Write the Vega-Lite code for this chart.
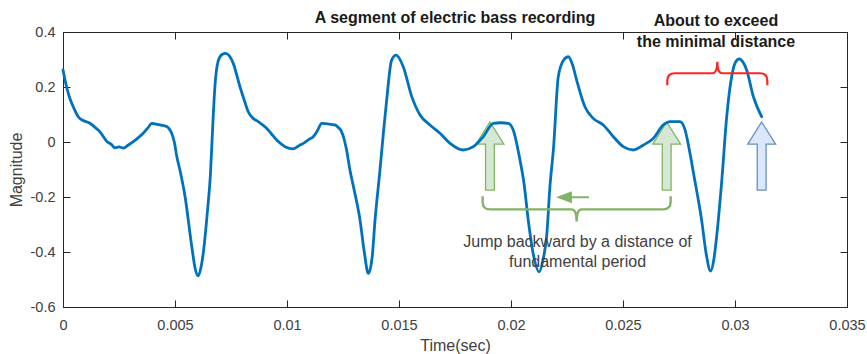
{
  "$schema": "https://vega.github.io/schema/vega-lite/v6.json",
  "width": 784,
  "height": 275,
  "autosize": {"type": "none"},
  "padding": {"left": 63, "top": 32, "right": 20, "bottom": 47},
  "background": "white",
  "title": {
    "text": "A segment of electric bass recording",
    "font": "Liberation Sans",
    "fontSize": 16,
    "fontWeight": "bold",
    "color": "#1a1a1a",
    "anchor": "middle",
    "baseline": "alphabetic",
    "offset": 0,
    "dy": 26
  },
  "config": {
    "view": {"stroke": "#262626", "strokeWidth": 1},
    "axis": {
      "grid": false,
      "domainColor": "#262626",
      "tickColor": "#262626",
      "labelFont": "Liberation Sans",
      "labelFontSize": 14.5,
      "labelColor": "#404040",
      "titleFont": "Liberation Sans",
      "titleFontSize": 16,
      "titleFontWeight": "normal",
      "titleColor": "#404040"
    }
  },
  "datasets": {
    "wave": [
      {"t": 0, "v": 0.262}, {"t": 0.00016, "v": 0.2}, {"t": 0.0003, "v": 0.16}, {"t": 0.00046, "v": 0.128},
      {"t": 0.00068, "v": 0.092}, {"t": 0.0009, "v": 0.078}, {"t": 0.0012, "v": 0.068}, {"t": 0.00145, "v": 0.052},
      {"t": 0.00165, "v": 0.037}, {"t": 0.00195, "v": 0.003}, {"t": 0.00215, "v": -0.008}, {"t": 0.00232, "v": -0.021},
      {"t": 0.0025, "v": -0.018}, {"t": 0.0027, "v": -0.022}, {"t": 0.0029, "v": -0.012}, {"t": 0.00314, "v": 0.001},
      {"t": 0.00335, "v": 0.015}, {"t": 0.00358, "v": 0.032}, {"t": 0.0038, "v": 0.052}, {"t": 0.00396, "v": 0.068},
      {"t": 0.0041, "v": 0.066}, {"t": 0.00433, "v": 0.062}, {"t": 0.00463, "v": 0.056}, {"t": 0.00475, "v": 0.047},
      {"t": 0.00485, "v": 0.032}, {"t": 0.00497, "v": 0.0}, {"t": 0.00508, "v": -0.053}, {"t": 0.00522, "v": -0.102},
      {"t": 0.00545, "v": -0.199}, {"t": 0.00575, "v": -0.381}, {"t": 0.0059, "v": -0.46}, {"t": 0.00603, "v": -0.487},
      {"t": 0.00615, "v": -0.46}, {"t": 0.00626, "v": -0.405}, {"t": 0.00645, "v": -0.25}, {"t": 0.00658, "v": -0.12},
      {"t": 0.00668, "v": 0.05}, {"t": 0.00678, "v": 0.2}, {"t": 0.00693, "v": 0.295}, {"t": 0.0071, "v": 0.318},
      {"t": 0.00726, "v": 0.322}, {"t": 0.0076, "v": 0.286}, {"t": 0.0079, "v": 0.201}, {"t": 0.0081, "v": 0.15},
      {"t": 0.00827, "v": 0.11}, {"t": 0.0085, "v": 0.085}, {"t": 0.00872, "v": 0.074}, {"t": 0.00909, "v": 0.05},
      {"t": 0.0093, "v": 0.03}, {"t": 0.00954, "v": 0.007}, {"t": 0.00975, "v": -0.008}, {"t": 0.00991, "v": -0.017},
      {"t": 0.01028, "v": -0.025}, {"t": 0.01058, "v": -0.011}, {"t": 0.01073, "v": -0.005}, {"t": 0.01095, "v": 0.008},
      {"t": 0.01117, "v": 0.019}, {"t": 0.01135, "v": 0.04}, {"t": 0.01155, "v": 0.068}, {"t": 0.0118, "v": 0.066},
      {"t": 0.01214, "v": 0.062}, {"t": 0.0123, "v": 0.052}, {"t": 0.01244, "v": 0.037}, {"t": 0.01255, "v": 0.01},
      {"t": 0.01266, "v": -0.029}, {"t": 0.01281, "v": -0.102}, {"t": 0.01296, "v": -0.16}, {"t": 0.01326, "v": -0.284},
      {"t": 0.01345, "v": -0.4}, {"t": 0.01363, "v": -0.478}, {"t": 0.0138, "v": -0.42}, {"t": 0.01393, "v": -0.284},
      {"t": 0.01415, "v": -0.102}, {"t": 0.0143, "v": 0.03}, {"t": 0.01445, "v": 0.153}, {"t": 0.01467, "v": 0.298},
      {"t": 0.01487, "v": 0.316}, {"t": 0.01519, "v": 0.274}, {"t": 0.01557, "v": 0.165}, {"t": 0.01594, "v": 0.098},
      {"t": 0.01638, "v": 0.062}, {"t": 0.01683, "v": 0.032}, {"t": 0.01728, "v": -0.005}, {"t": 0.01787, "v": -0.029},
      {"t": 0.01832, "v": -0.017}, {"t": 0.01876, "v": 0.019}, {"t": 0.01921, "v": 0.068}, {"t": 0.01955, "v": 0.07},
      {"t": 0.01988, "v": 0.068}, {"t": 0.0201, "v": 0.044}, {"t": 0.0204, "v": -0.065}, {"t": 0.02058, "v": -0.15},
      {"t": 0.02077, "v": -0.284}, {"t": 0.021, "v": -0.41}, {"t": 0.02126, "v": -0.472}, {"t": 0.02145, "v": -0.42},
      {"t": 0.02159, "v": -0.344}, {"t": 0.02174, "v": -0.16}, {"t": 0.0219, "v": -0.02}, {"t": 0.02211, "v": 0.237},
      {"t": 0.02235, "v": 0.298}, {"t": 0.02256, "v": 0.31}, {"t": 0.02275, "v": 0.28}, {"t": 0.02293, "v": 0.225},
      {"t": 0.0233, "v": 0.128}, {"t": 0.02367, "v": 0.086}, {"t": 0.02412, "v": 0.062}, {"t": 0.02457, "v": 0.019},
      {"t": 0.02501, "v": -0.017}, {"t": 0.02546, "v": -0.029}, {"t": 0.02591, "v": -0.011}, {"t": 0.02635, "v": 0.013},
      {"t": 0.0268, "v": 0.062}, {"t": 0.0271, "v": 0.074}, {"t": 0.02754, "v": 0.074}, {"t": 0.02777, "v": 0.044},
      {"t": 0.02799, "v": -0.041}, {"t": 0.02814, "v": -0.11}, {"t": 0.02851, "v": -0.284}, {"t": 0.02872, "v": -0.41},
      {"t": 0.02891, "v": -0.469}, {"t": 0.02905, "v": -0.43}, {"t": 0.02918, "v": -0.344}, {"t": 0.0294, "v": -0.15},
      {"t": 0.02963, "v": 0.092}, {"t": 0.02985, "v": 0.237}, {"t": 0.03002, "v": 0.29}, {"t": 0.03019, "v": 0.302},
      {"t": 0.03036, "v": 0.29}, {"t": 0.03052, "v": 0.262}, {"t": 0.03082, "v": 0.165}, {"t": 0.03119, "v": 0.092}
    ],
    "greenArrows": [{"t": 0.01906, "v": -0.051}, {"t": 0.02695, "v": -0.051}],
    "blueArrows": [{"t": 0.03119, "v": -0.051}],
    "redBrace": [{"t": 0.02921, "v": 0.25}],
    "greenBrace": [{"t": 0.02293, "v": -0.245}],
    "leftArrow": [{"t": 0.02281, "v": -0.201}],
    "boldNotes": [
      {"t": 0.02915, "v": 0.4218, "label": "About to exceed"},
      {"t": 0.02915, "v": 0.3455, "label": "the minimal distance"}
    ],
    "plainNotes": [
      {"t": 0.02297, "v": -0.383, "label": "Jump backward by a distance of"},
      {"t": 0.02297, "v": -0.4535, "label": "fundamental period"}
    ]
  },
  "resolve": {"axis": {"x": "independent", "y": "independent"}},
  "layer": [
    {
      "data": {"name": "greenArrows"},
      "mark": {
        "type": "point",
        "shape": "M0,-1 L0.41,-0.35 L0.13,-0.35 L0.13,1 L-0.13,1 L-0.13,-0.35 L-0.41,-0.35 Z",
        "size": 4624,
        "filled": true,
        "fill": "#d5e8d4",
        "fillOpacity": 1,
        "stroke": "#82b366",
        "strokeWidth": 1.3,
        "opacity": 1
      },
      "encoding": {
        "x": {"field": "t", "type": "quantitative",
              "scale": {"domain": [0, 0.035], "nice": false, "zero": false},
              "axis": {"orient": "top", "labels": false, "title": null, "domain": false,
                       "tickSize": -7, "values": [0, 0.005, 0.01, 0.015, 0.02, 0.025, 0.03, 0.035]}},
        "y": {"field": "v", "type": "quantitative",
              "scale": {"domain": [-0.6, 0.4], "nice": false, "zero": false},
              "axis": {"orient": "right", "labels": false, "title": null, "domain": false,
                       "tickSize": -7, "values": [-0.6, -0.4, -0.2, 0, 0.2, 0.4]}}
      }
    },
    {
      "data": {"name": "blueArrows"},
      "mark": {
        "type": "point",
        "shape": "M0,-1 L0.41,-0.35 L0.13,-0.35 L0.13,1 L-0.13,1 L-0.13,-0.35 L-0.41,-0.35 Z",
        "size": 4624,
        "filled": true,
        "fill": "#dae8fc",
        "fillOpacity": 1,
        "stroke": "#6c8ebf",
        "strokeWidth": 1.3,
        "opacity": 1
      },
      "encoding": {
        "x": {"field": "t", "type": "quantitative", "axis": null},
        "y": {"field": "v", "type": "quantitative", "axis": null}
      }
    },
    {
      "data": {"name": "wave"},
      "mark": {"type": "line", "color": "#0072bd", "strokeWidth": 2.8, "interpolate": "monotone", "strokeJoin": "round", "strokeCap": "round"},
      "encoding": {
        "x": {"field": "t", "type": "quantitative",
              "axis": {"orient": "bottom", "title": "Time(sec)", "tickSize": -7, "labelPadding": 18,
                       "values": [0, 0.005, 0.01, 0.015, 0.02, 0.025, 0.03, 0.035],
                       "labelExpr": "'' + datum.value", "labelFlush": false, "labelOverlap": false,
                       "titleBaseline": "alphabetic", "titleY": 43, "titleX": 392}},
        "y": {"field": "v", "type": "quantitative",
              "axis": {"orient": "left", "title": "Magnitude", "tickSize": -7, "labelPadding": 15,
                       "values": [-0.6, -0.4, -0.2, 0, 0.2, 0.4],
                       "labelExpr": "'' + datum.value", "labelFlush": false, "labelOverlap": false,
                       "titleBaseline": "alphabetic", "titleX": -41.5, "titleY": 137.5, "titleAngle": 270}}
      }
    },
    {
      "data": {"name": "redBrace"},
      "mark": {
        "type": "point",
        "shape": "M-1,0.24 L-1,0.15 Q-1,0 -0.85,0 L-0.1,0 Q0,0 0,-0.23 Q0,0 0.1,0 L0.85,0 Q1,0 1,0.15 L1,0.24",
        "size": 10000,
        "filled": false,
        "fill": null,
        "stroke": "#ff2525",
        "strokeWidth": 2.2,
        "opacity": 1
      },
      "encoding": {
        "x": {"field": "t", "type": "quantitative", "axis": null},
        "y": {"field": "v", "type": "quantitative", "axis": null}
      }
    },
    {
      "data": {"name": "greenBrace"},
      "mark": {
        "type": "point",
        "shape": "M-1,-0.14 L-1,-0.08 Q-1,0 -0.92,0 L-0.055,0 Q0,0 0,0.128 Q0,0 0.055,0 L0.92,0 Q1,0 1,-0.08 L1,-0.14",
        "size": 35344,
        "filled": false,
        "fill": null,
        "stroke": "#82b366",
        "strokeWidth": 2.4,
        "opacity": 1
      },
      "encoding": {
        "x": {"field": "t", "type": "quantitative", "axis": null},
        "y": {"field": "v", "type": "quantitative", "axis": null}
      }
    },
    {
      "data": {"name": "leftArrow"},
      "mark": {
        "type": "point",
        "shape": "M1,0 L-0.5,0 M-1,0 L-0.2,-0.3 L-0.2,0.3 Z",
        "size": 900,
        "filled": true,
        "fill": "#82b366",
        "stroke": "#82b366",
        "strokeWidth": 2,
        "opacity": 1
      },
      "encoding": {
        "x": {"field": "t", "type": "quantitative", "axis": null},
        "y": {"field": "v", "type": "quantitative", "axis": null}
      }
    },
    {
      "data": {"name": "boldNotes"},
      "mark": {"type": "text", "font": "Liberation Sans", "fontSize": 16, "fontWeight": "bold", "color": "#1a1a1a", "align": "center", "baseline": "alphabetic"},
      "encoding": {
        "x": {"field": "t", "type": "quantitative", "axis": null},
        "y": {"field": "v", "type": "quantitative", "axis": null},
        "text": {"field": "label"}
      }
    },
    {
      "data": {"name": "plainNotes"},
      "mark": {"type": "text", "font": "Liberation Sans", "fontSize": 16, "color": "#404040", "align": "center", "baseline": "alphabetic"},
      "encoding": {
        "x": {"field": "t", "type": "quantitative", "axis": null},
        "y": {"field": "v", "type": "quantitative", "axis": null},
        "text": {"field": "label"}
      }
    }
  ]
}
